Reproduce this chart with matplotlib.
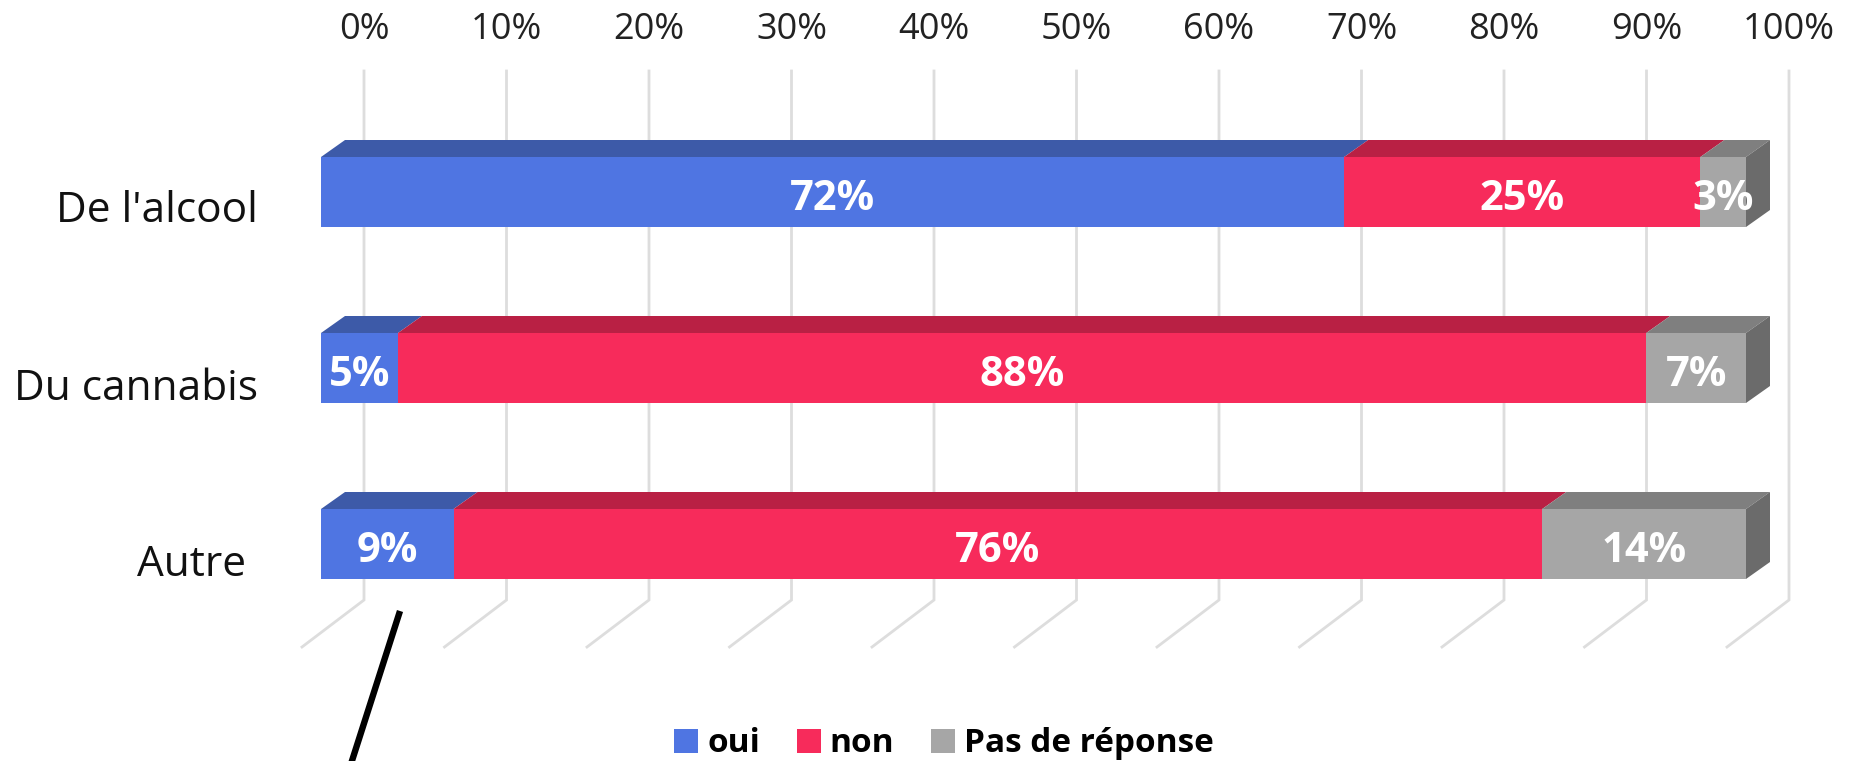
import matplotlib
matplotlib.use("Agg")
import matplotlib.pyplot as plt
from matplotlib.patches import Polygon, Patch
from matplotlib.lines import Line2D
from matplotlib.transforms import ScaledTranslation

categories = ["De l'alcool", "Du cannabis", "Autre"]
series_names = ["oui", "non", "Pas de réponse"]
oui = [71.8, 5.4, 9.3]
non = [25.0, 87.6, 76.4]
pas = [3.2, 7.0, 14.3]
ticks = [0, 10, 20, 30, 40, 50, 60, 70, 80, 90, 100]

front = ["#4F75E2", "#F72B5B", "#A6A6A6"]
top = ["#3D5AA8", "#B92044", "#7F7F7F"]
side = "#6B6B6B"
grid = "#DDDDDD"

W, H = 1860, 761
plt.rcParams['font.family'] = ['Open Sans', 'DejaVu Sans']
fig = plt.figure(figsize=(W / 100, H / 100), dpi=100)
ax = fig.add_axes([0, 0, 1, 1])
px_x, px_y = 14.25, 176.0
ax.set_xlim(-321 / px_x, (W - 321) / px_x)
ax.set_ylim((H - 192) / px_y, -192 / px_y)
for s in ax.spines.values():
    s.set_visible(False)
ax.patch.set_alpha(0)

# 3D offsets in data units
bar_h = 70 / px_y
dx, dy = 24 / px_x, 17 / px_y
back_x, floor_x = 43 / px_x, -19 / px_x
top_y, back_y, floor_y = (71 - 192) / px_y, (600 - 192) / px_y, (647 - 192) / px_y

for v in ticks:
    ax.plot([v + back_x, v + back_x, v + floor_x], [top_y, back_y, floor_y],
            color=grid, lw=2.0, zorder=1, solid_joinstyle='miter')

series = [oui, non, pas]
for i, cat in enumerate(categories):
    y0, y1 = i - bar_h / 2, i + bar_h / 2
    left = 0.0
    for s, vals in enumerate(series):
        v = vals[i]
        r = left + v
        ax.barh(i, v, left=left, height=bar_h, color=front[s], zorder=3, lw=0)
        ax.add_patch(Polygon([(left, y0), (r, y0), (r + dx, y0 - dy), (left + dx, y0 - dy)],
                             closed=True, fc=top[s], ec='none', zorder=2.5))
        ax.text(left + v / 2, i + 7 / px_y, f"{round(v)}%", color='white', fontsize=30,
                fontweight='bold', ha='center', va='center', zorder=5)
        left = r
    ax.add_patch(Polygon([(left, y0), (left + dx, y0 - dy), (left + dx, y1 - dy), (left, y1)],
                         closed=True, fc=side, ec='none', zorder=2.5))

ax.xaxis.tick_top()
ax.set_xticks([v + back_x for v in ticks])
ax.set_xticklabels([f"{v}%" for v in ticks], fontsize=26, color='#222222')
ax.tick_params(axis='x', length=0, pad=-34.5)
ax.set_yticks(range(len(categories)))
ax.set_yticklabels(categories, fontsize=30.5, color='#111111')
ax.tick_params(axis='y', length=0, pad=-185.5)
labs = ax.get_yticklabels()
for lab, shift in zip(labs, [(0, -14), (0, -16), (-12, -16)]):
    lab.set_transform(lab.get_transform() + ScaledTranslation(shift[0] / 100, shift[1] / 100, fig.dpi_scale_trans))

handles = [Patch(fc=c, ec='none') for c in front]
ax.legend(handles, series_names, loc='center', bbox_to_anchor=(944 / W, 1 - 744 / H),
          bbox_transform=fig.transFigure, ncols=3, frameon=False,
          prop={'family': 'Open Sans', 'weight': 'bold', 'size': 24},
          handlelength=0.72, handleheight=0.7, handletextpad=0.28, columnspacing=1.1)

# Stray annotation stroke in the reference
fig.add_artist(Line2D([400 / W, 350 / W], [1 - 611 / H, 1 - 767 / H], color='black', lw=4.6,
                      solid_capstyle='butt'))

fig.savefig("out.png", dpi=100, facecolor='white')
